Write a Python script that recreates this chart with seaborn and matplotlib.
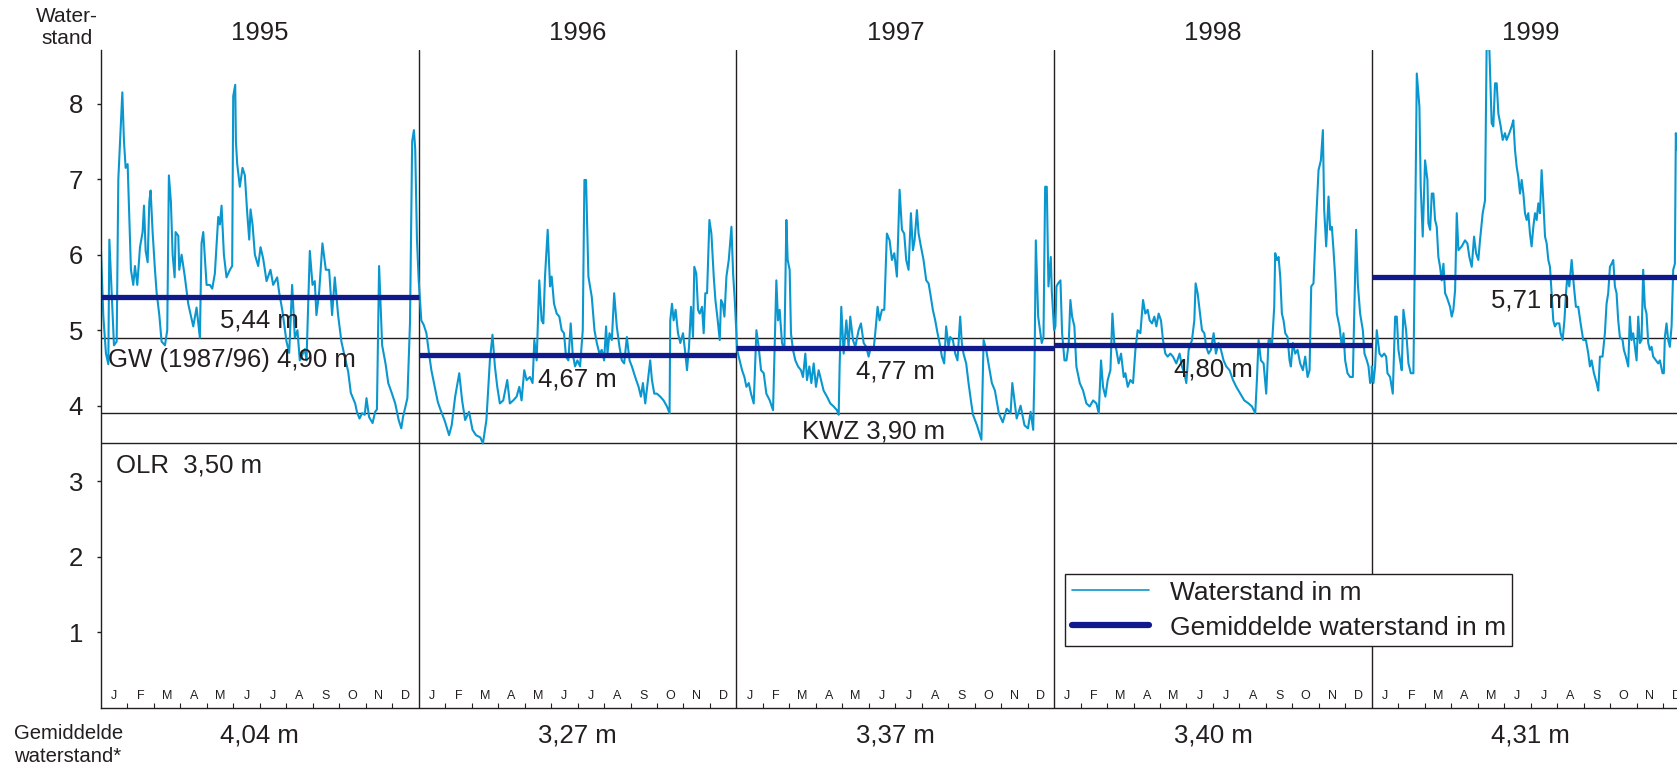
import matplotlib
matplotlib.use("Agg")
import matplotlib.pyplot as plt
import matplotlib.transforms as mtransforms
from matplotlib.lines import Line2D
import numpy as np
import pandas as pd
import seaborn as sns

# ---------------- data ----------------
years = [1995, 1996, 1997, 1998, 1999]
days_in_year = [365, 366, 365, 365, 365]
year_means = [5.44, 4.67, 4.77, 4.80, 5.71]
mean_labels = ["5,44 m", "4,67 m", "4,77 m", "4,80 m", "5,71 m"]
bottom_labels = ["4,04 m", "3,27 m", "3,37 m", "3,40 m", "4,31 m"]
month_letters = ["J", "F", "M", "A", "M", "J", "J", "A", "S", "O", "N", "D"]
ref_levels = [4.90, 3.90, 3.50]
y_ticks = [1, 2, 3, 4, 5, 6, 7, 8]

# (day of year, water level in m)
obs_1995 = [(0, 6.05), (2.7, 5.18), (5.7, 4.69), (8.4, 4.55), (9.6, 6.2), (12.2, 5.5), (14.9, 4.8),
            (18, 4.85), (19.9, 7.0), (24.5, 8.15), (26.4, 7.5), (28.3, 7.15), (30.6, 7.2), (32.5, 6.5),
            (34.4, 5.8), (37.1, 5.6), (39, 5.85), (41.7, 5.6), (44.8, 6.1), (47.8, 6.3), (49.4, 6.65),
            (51.3, 6.05), (53.6, 5.9), (55.5, 6.7), (57, 6.85), (59.3, 6.3), (62, 5.8), (63.9, 5.5),
            (67, 5.2), (69.6, 4.85), (73.5, 4.8), (76.1, 5.0), (78, 7.05), (80.3, 6.7), (82.3, 6.0),
            (84.6, 5.7), (85.7, 6.3), (88.8, 6.25), (89.9, 5.8), (92.6, 6.0), (96.4, 5.7), (100.2, 5.35),
            (104.1, 5.15), (106, 5.05), (109.8, 5.3), (113.6, 4.9), (115.5, 6.15), (117.5, 6.3),
            (121.3, 5.6), (125.1, 5.6), (127.8, 5.55), (130.8, 5.75), (134.7, 6.5), (136.6, 6.4),
            (138.5, 6.65), (141.2, 6.0), (144.2, 5.7), (148.1, 5.8), (150.7, 5.85), (151.9, 8.1),
            (154.2, 8.25), (155, 7.5), (156.5, 7.2), (159.5, 6.9), (162.6, 7.15), (165.3, 7.05),
            (168, 6.55), (170.3, 6.2), (171.8, 6.6), (174.1, 6.4), (176.8, 6.0), (180.6, 5.85),
            (183.3, 6.1), (186.3, 5.95), (190.2, 5.65), (194.7, 5.8), (197.8, 5.6), (202.4, 5.7),
            (204.7, 5.5), (208.5, 5.25), (213.1, 4.85), (216.2, 4.7), (219.6, 5.6), (222.7, 4.9),
            (225.7, 5.0), (228.4, 4.6), (234.2, 4.75), (236.1, 4.6), (239.9, 6.05), (243, 5.6),
            (245.6, 5.65), (247.5, 5.2), (250.6, 5.5), (254.4, 6.15), (258.3, 5.8), (262.1, 5.8),
            (265.5, 5.2), (268.6, 5.7), (272.4, 5.2), (276.2, 4.85), (280, 4.65), (284, 4.45),
            (287, 4.17), (292, 4.03), (294, 3.92), (297, 3.83), (300, 3.9), (303, 3.88), (305, 4.1),
            (308, 3.85), (312, 3.77), (315, 3.92), (317, 3.95), (319.5, 5.85), (323, 4.8), (327, 4.55),
            (330, 4.3), (334, 4.17), (338, 4.03), (342, 3.81), (345, 3.70), (347, 3.85), (350, 4.0),
            (352, 4.1), (355, 5.1), (357.5, 7.5), (359.5, 7.65), (361, 7.4), (363, 6.2), (365, 5.66)]

obs_1996 = [(0, 5.66), (3, 5.13), (5.8, 5.07), (8.9, 4.96), (11.9, 4.69), (14.6, 4.47), (18.5, 4.25),
            (22, 4.05), (25, 3.95), (30, 3.8), (35, 3.61), (38, 3.74), (42, 4.12), (46.7, 4.43),
            (50, 4.07), (53.5, 3.81), (58, 3.92), (62, 3.68), (66, 3.61), (71, 3.58), (74, 3.5),
            (78, 3.81), (80, 4.2), (82, 4.6), (85, 4.94), (87.8, 4.52), (90.5, 4.25), (93.5, 4.03),
            (97.4, 4.07), (102, 4.34), (105, 4.03), (108.9, 4.07), (112.8, 4.12), (115.9, 4.25),
            (118.5, 4.07), (121.6, 4.47), (124.3, 4.34), (128.2, 4.38), (131.2, 4.3), (133.2, 4.87),
            (135.9, 4.6), (138.9, 5.66), (141.6, 5.13), (143.6, 5.09), (145.5, 5.71), (148.6, 6.33),
            (151.3, 5.58), (153.2, 5.71), (155.9, 5.35), (159, 5.22), (162, 5.18), (164.7, 5.0),
            (167.4, 4.96), (169.7, 4.65), (172.4, 4.6), (175.1, 5.09), (177.4, 4.69), (180.1, 4.52),
            (182.8, 4.6), (185.9, 4.52), (189, 5.0), (190.9, 6.99), (192.8, 6.99), (195.5, 5.71),
            (199.4, 5.44), (202.5, 5.0), (205.2, 4.83), (208.2, 4.69), (210.9, 4.74), (213.6, 4.6),
            (215.9, 5.05), (217.5, 4.69), (219.8, 4.96), (222.5, 4.87), (225.2, 5.49), (228.2, 5.05),
            (231.3, 4.78), (234, 4.6), (236.7, 4.56), (239.8, 4.91), (242.9, 4.6), (245.6, 4.52),
            (249.4, 4.38), (253.3, 4.25), (256, 4.12), (258.3, 4.3), (261, 4.03), (263.7, 4.3),
            (266.7, 4.6), (268.7, 4.34), (271.4, 4.16), (274.4, 4.16), (278.3, 4.12), (282.1, 4.07),
            (286, 3.99), (289, 3.9), (289.8, 5.13), (291.8, 5.35), (293.7, 5.13), (296, 5.27),
            (298.7, 4.96), (301.4, 4.83), (304.5, 4.96), (307.2, 4.69), (309.1, 4.47), (311.4, 4.78),
            (313.7, 5.31), (316, 4.91), (317.5, 5.84), (319.8, 5.75), (321.8, 5.27), (323.7, 5.22),
            (326.4, 5.31), (328.3, 4.96), (330.2, 5.49), (332.2, 5.49), (334.9, 6.46), (337.2, 6.28),
            (339.9, 5.71), (341.8, 5.4), (344.5, 5.13), (346.8, 4.87), (348.3, 5.4), (350.3, 5.35),
            (352.2, 5.18), (354.5, 5.71), (357.2, 5.93), (360.3, 6.37), (362.2, 5.75), (364.1, 5.4),
            (366, 4.96)]

obs_1997 = [(0.8, 4.74), (3.8, 4.6), (6.5, 4.47), (9.2, 4.38), (11.5, 4.25), (14.2, 4.3), (16.8, 4.16),
            (19.9, 4.03), (23, 5.0), (25.6, 4.78), (28.3, 4.47), (31.4, 4.43), (34.4, 4.16), (38.3, 4.07),
            (42.1, 3.94), (45.9, 5.66), (47.8, 5.13), (49.7, 5.27), (52.4, 4.83), (55.1, 4.74),
            (57.4, 6.46), (58.9, 5.93), (61.2, 5.8), (62.7, 4.96), (65, 4.74), (67.7, 4.6), (70.8, 4.52),
            (74.2, 4.47), (76.5, 4.38), (79.2, 4.69), (81.1, 4.34), (83.8, 4.52), (86.1, 4.3),
            (88.8, 4.56), (91.4, 4.25), (94.5, 4.47), (97.2, 4.34), (100.2, 4.2), (104.1, 4.12),
            (107.9, 4.03), (111.7, 3.99), (115.5, 3.94), (117.5, 3.88), (118.6, 4.52), (120.5, 5.31),
            (123.2, 4.69), (126.3, 5.13), (128.9, 4.78), (130.8, 5.18), (133.9, 4.87), (136.6, 4.78),
            (140.4, 5.0), (143.1, 5.09), (146.2, 4.83), (149.2, 4.78), (151.9, 4.65), (154.6, 4.78),
            (157.6, 4.74), (159.5, 4.96), (162.2, 5.31), (164.5, 5.13), (167.2, 5.27), (169.9, 5.27),
            (172.9, 6.28), (176, 6.19), (178.7, 5.93), (181.4, 6.02), (184.4, 5.71), (187.5, 6.86),
            (190.2, 6.33), (192.8, 6.28), (195.1, 5.93), (197.8, 5.8), (200.5, 6.55), (202.8, 6.06),
            (204.7, 6.19), (207.4, 6.59), (209.3, 6.28), (212, 6.11), (215, 5.93), (218.1, 5.66),
            (220.8, 5.62), (222.7, 5.49), (225.7, 5.27), (228.4, 5.13), (231.1, 4.96), (233.4, 4.83),
            (236.1, 4.65), (238.7, 4.56), (241, 5.05), (243.7, 4.78), (245.6, 4.91), (248.7, 4.87),
            (251.4, 4.69), (254, 4.6), (257.1, 5.18), (259, 4.83), (260.9, 4.69), (264, 4.56),
            (266.7, 4.3), (269.4, 4.07), (271.8, 3.88), (276.4, 3.74), (281.5, 3.55), (284, 4.87),
            (287, 4.74), (289.6, 4.56), (293.5, 4.3), (297, 4.2), (301.5, 3.9), (306, 3.78),
            (310.5, 3.96), (315, 3.9), (317, 4.3), (322, 3.83), (326.5, 4.0), (331, 3.74), (335, 3.7),
            (338, 3.92), (341, 3.68), (342.5, 4.5), (344, 6.19), (346.7, 5.18), (350.8, 4.83),
            (352.8, 4.91), (354.7, 6.9), (356.6, 6.9), (358.5, 5.58), (361.2, 5.97), (362.3, 5.53),
            (365, 5.0)]

obs_1998 = [(0, 5.0), (1.5, 5.05), (2.7, 5.58), (4.6, 5.62), (7.3, 5.66), (9.2, 4.96), (11.9, 4.6),
            (14.2, 4.6), (16.8, 4.83), (18.7, 5.4), (20.7, 5.18), (23.3, 5.05), (25.6, 4.52), (29.5, 4.3),
            (33.3, 4.2), (37.1, 4.03), (40.9, 3.99), (44.8, 4.07), (48.6, 4.03), (51.3, 3.9), (53.9, 4.6),
            (56.2, 4.25), (58.9, 4.12), (61.6, 4.34), (64.7, 4.47), (67, 5.22), (69.2, 4.83), (71.5, 4.74),
            (74.2, 4.56), (76.9, 4.69), (80, 4.38), (81.9, 4.43), (84.6, 4.25), (87.6, 4.34), (90.7, 4.3),
            (93.4, 4.74), (96, 5.0), (99.1, 4.96), (102.2, 5.4), (104.8, 5.22), (107.5, 5.27),
            (109.8, 5.13), (112.5, 5.09), (115.2, 5.18), (117.5, 5.05), (120.1, 5.22), (122.8, 5.13),
            (125.1, 4.87), (127.8, 4.69), (130.5, 4.65), (133.5, 4.69), (136.6, 4.65), (140.4, 4.56),
            (144.2, 4.69), (146.9, 4.52), (149.6, 4.43), (151.9, 4.3), (154.6, 4.74), (158.4, 4.87),
            (161.1, 5.13), (162.6, 5.62), (164.9, 5.49), (167.2, 5.27), (169.9, 5.0), (172.6, 4.96),
            (174.8, 4.78), (177.5, 4.69), (180.2, 4.74), (183.3, 4.96), (185.9, 4.69), (189, 4.83),
            (191.7, 4.74), (194.7, 4.6), (197.8, 4.52), (201.6, 4.47), (205.5, 4.34), (209.3, 4.25),
            (213.9, 4.16), (218.5, 4.07), (223.4, 4.03), (227.3, 3.99), (231.1, 3.9), (233, 4.34),
            (234.9, 4.87), (237.6, 4.6), (240.7, 4.56), (243.7, 4.16), (246.4, 4.87), (248.3, 4.87),
            (250.2, 4.78), (252.9, 5.31), (254, 6.02), (256, 5.93), (257.9, 5.97), (259.8, 5.71),
            (261.7, 5.22), (263.6, 5.13), (265.6, 4.96), (268.2, 4.91), (270.5, 4.6), (272, 4.52),
            (274.3, 4.83), (277, 4.69), (279.7, 4.74), (282.7, 4.56), (285.8, 4.47), (288.5, 4.65),
            (291.2, 4.38), (293.5, 4.47), (295.4, 5.58), (298, 5.62), (300.7, 6.37), (303.8, 7.12),
            (306.5, 7.25), (308.8, 7.65), (310.3, 6.59), (312.6, 6.11), (315.3, 6.77), (317.2, 6.33),
            (319.1, 6.37), (321, 6.06), (322.9, 5.71), (324.8, 5.22), (327.9, 5.05), (330.6, 4.78),
            (332.5, 4.96), (334.4, 4.6), (337.1, 4.43), (340.1, 4.38), (343.2, 4.38), (344.7, 5.13),
            (347, 6.33), (348.9, 5.62), (351.6, 5.22), (354.7, 5.0), (356.6, 4.69), (359.3, 4.6),
            (361.2, 4.52), (363.1, 4.3), (365, 4.34)]

obs_1999 = [(0, 4.52), (1.9, 4.3), (3.8, 4.52), (5.7, 5.0), (8.8, 4.69), (11.5, 4.65), (14.2, 4.69),
            (16.5, 4.65), (18, 4.43), (21, 4.38), (24.1, 4.16), (26.8, 5.18), (28.7, 5.18), (30.6, 4.74),
            (32.5, 4.6), (34.4, 4.47), (36.3, 5.27), (39.4, 5.0), (42.1, 4.56), (44.8, 4.43), (47.8, 4.43),
            (49.7, 6.19), (51.7, 8.4), (54.7, 7.96), (56.2, 6.9), (58.5, 6.24), (61.2, 7.25), (63.9, 6.99),
            (65, 6.42), (67, 6.33), (68.9, 6.81), (70.8, 6.81), (72.7, 6.46), (74.6, 6.37), (76.5, 5.97),
            (78.4, 5.84), (80.3, 5.66), (82.3, 5.88), (84.2, 5.49), (86.1, 5.44), (89.9, 5.31),
            (91.8, 5.18), (93.7, 5.27), (95.7, 5.53), (97.6, 6.55), (99.5, 6.06), (103.3, 6.11),
            (107.1, 6.19), (109.8, 6.15), (112.1, 5.97), (114.8, 5.84), (117.5, 6.24), (119.8, 6.02),
            (122.4, 5.93), (124.3, 6.19), (127.4, 6.55), (130.1, 6.72), (132, 8.84), (135.1, 8.71),
            (137.7, 7.74), (139.6, 7.7), (141.6, 8.27), (143.5, 8.27), (145.4, 7.87), (148.1, 7.7),
            (150.4, 7.52), (153, 7.61), (154.9, 7.52), (158, 7.61), (160.7, 7.7), (162.6, 7.78),
            (164.5, 7.39), (166.4, 7.17), (168.3, 7.03), (170.3, 6.81), (172.2, 6.99), (174.1, 6.81),
            (176, 6.55), (177.9, 6.46), (179.8, 6.55), (181.7, 6.28), (183.6, 6.11), (185.6, 6.37),
            (187.5, 6.55), (189.4, 6.46), (191.3, 6.68), (193.2, 6.55), (195.1, 7.12), (197, 6.72),
            (199, 6.24), (200.9, 6.15), (202.8, 5.93), (204.7, 5.84), (206.6, 5.49), (208.5, 5.13),
            (210.4, 5.05), (212.3, 5.09), (215.4, 5.09), (216.9, 4.96), (219.2, 4.87), (221.3, 5.13),
            (223.1, 5.49), (224.6, 5.71), (226.9, 5.58), (229.6, 5.93), (232.2, 5.58), (234.5, 5.31),
            (237.2, 5.31), (239.9, 5.09), (242.9, 4.87), (246, 4.87), (248.7, 4.69), (250.6, 4.52),
            (252.5, 4.6), (255.2, 4.43), (258.3, 4.3), (260.2, 4.2), (262.1, 4.65), (265.1, 4.65),
            (267.8, 4.96), (269.7, 5.35), (271.6, 5.49), (273.6, 5.84), (275.5, 5.88), (277.4, 5.93),
            (279.3, 5.58), (281.2, 5.49), (283.1, 5.13), (285, 4.91), (288.1, 4.87), (289.6, 4.74),
            (291.9, 4.65), (294.6, 4.52), (296.5, 5.18), (298.4, 4.87), (300.3, 4.96), (302.3, 4.78),
            (304.2, 4.6), (306.1, 5.18), (308, 4.83), (309.9, 4.87), (311.8, 5.8), (313.7, 5.31),
            (315.6, 5.22), (317.6, 4.83), (319.5, 4.74), (321.4, 4.78), (323.3, 4.65), (326.4, 4.6),
            (329, 4.56), (331, 4.6), (334, 4.43), (335.5, 4.43), (336.7, 4.91), (338.6, 5.09),
            (340.5, 4.87), (342.4, 4.78), (344.4, 5.05), (346.3, 5.8), (348.2, 5.88), (349.3, 7.61),
            (350.5, 7.39)]

observations = [obs_1995, obs_1996, obs_1997, obs_1998, obs_1999]

# ---------------- styling ----------------
BLUE = "#0a97cf"
NAVY = "#101a8c"
TXT = "#231f20"
FS = 18.5

sns.set_theme(style="white")
plt.rcParams["font.family"] = ["Liberation Sans", "DejaVu Sans"]
plt.rcParams["text.color"] = TXT

rows = []
for i, (obs, nd) in enumerate(zip(observations, days_in_year)):
    for d, v in obs:
        rows.append({"year": years[i], "t": i + d / nd, "level": v})
df = pd.DataFrame(rows)

W, H = 1677, 770
ax_left, ax_right, ax_top, ax_bot = 101, 1677, 50, 707.7
fig = plt.figure(figsize=(W / 100, H / 100), dpi=100)
ax = fig.add_axes([ax_left / W, 1 - ax_bot / H, (ax_right - ax_left) / W, (ax_bot - ax_top) / H])

px_per_year = 317.7
px_per_m = 75.5
ax.set_xlim(0, (ax_right - ax_left) / px_per_year)
ax.set_ylim(0, (ax_bot - ax_top) / px_per_m)

# reference lines
for lvl in ref_levels:
    ax.axhline(lvl, color=TXT, lw=1.0, zorder=1)
# year separators
for i in range(1, len(years)):
    ax.axvline(i, color=TXT, lw=1.0, zorder=1)

sns.lineplot(data=df, x="t", y="level", estimator=None, sort=False, color=BLUE,
             linewidth=1.5, ax=ax, legend=False, zorder=2)

for i, m in enumerate(year_means):
    ax.hlines(m, i, i + 1, color=NAVY, lw=3.8, zorder=3, capstyle="butt")
    ax.text(i + 0.5, m - 0.41, mean_labels[i], ha="center", va="baseline", fontsize=FS, zorder=4)

# axes styling
for s in ["top", "right"]:
    ax.spines[s].set_visible(False)
for s in ["left", "bottom"]:
    ax.spines[s].set_color(TXT)
    ax.spines[s].set_linewidth(1.0)
ax.set_yticks(y_ticks)
ax.set_yticklabels([str(v) for v in y_ticks])
ax.tick_params(axis="y", direction="out", length=3, width=1, color=TXT, labelsize=FS,
               labelcolor=TXT, pad=10, left=True)
ax.set_xticks([])
minor = [i + m / 12 for i in range(len(years)) for m in range(1, 12)]
ax.set_xticks(minor, minor=True)
ax.tick_params(axis="x", which="minor", direction="in", length=3.6, width=0.8, color=TXT, bottom=True)
ax.set_xlabel("")
ax.set_ylabel("")

xtrans = mtransforms.blended_transform_factory(ax.transData, ax.transAxes)
for i in range(len(years)):
    for m, letter in enumerate(month_letters):
        ax.text(i + (m + 0.5) / 12, 8.7 / (ax_bot - ax_top), letter, transform=xtrans,
                ha="center", va="baseline", fontsize=9)
    ax.text(i + 0.5, 1 + 17 / (ax_bot - ax_top), str(years[i]), transform=xtrans,
            ha="center", va="center", fontsize=FS)

ax.text(7 / px_per_year, 4.51, "GW (1987/96) 4,90 m", ha="left", va="baseline", fontsize=FS)
ax.text(14.6 / px_per_year, 3.11, "OLR  3,50 m", ha="left", va="baseline", fontsize=FS)
ax.text(2.2055, 3.566, "KWZ 3,90 m", ha="left", va="baseline", fontsize=FS)

figx = mtransforms.blended_transform_factory(ax.transData, fig.transFigure)
for i, lab in enumerate(bottom_labels):
    fig.text(i + 0.5, 1 - 735 / H, lab, transform=figx, ha="center", va="center", fontsize=FS)

fig.text(67 / W, 1 - 27 / H, "Water-\nstand", ha="center", va="center", fontsize=15,
         multialignment="center")
fig.text(14 / W, 1 - 745 / H, "Gemiddelde\nwaterstand*", ha="left", va="center", fontsize=14.6,
         linespacing=1.25)

handles = [Line2D([], [], color=BLUE, lw=1.2), Line2D([], [], color=NAVY, lw=4.5)]
leg = ax.legend(handles, ["Waterstand in m", "Gemiddelde waterstand in m"], loc="upper left",
                bbox_to_anchor=(1065 / W, 1 - 574 / H), bbox_transform=fig.transFigure,
                frameon=True, fancybox=False, framealpha=1, edgecolor=TXT, fontsize=19,
                handlelength=2.95, handletextpad=0.76, borderpad=0.25, labelspacing=0.42,
                borderaxespad=0)
leg.get_frame().set_linewidth(1.0)
for t in leg.get_texts():
    t.set_color(TXT)

fig.savefig("out.png", dpi=100)
